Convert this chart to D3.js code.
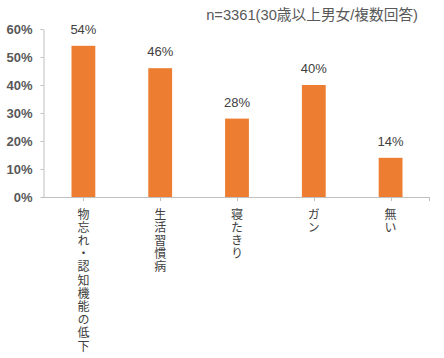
<!DOCTYPE html>
<html lang="ja">
<head>
  <meta charset="UTF-8">
  <title>Bar Chart</title>
  <script src="https://d3js.org/d3.v7.min.js"></script>
  <style>
    body { margin: 0; background: #fff; }
    .ytick text { font-family: "Liberation Sans", Arial, sans-serif; font-size: 13px; font-weight: bold; fill: #595959; }
    .val { font-family: "Liberation Sans", Arial, sans-serif; font-size: 13px; fill: #404040; }
    .cat { font-family: "Noto Sans CJK JP", sans-serif; font-size: 12px; fill: #404040; writing-mode: vertical-rl; text-orientation: upright; letter-spacing: 1.2px; }
    .note { font-family: "Liberation Sans", "Noto Sans CJK JP", sans-serif; font-size: 14.7px; fill: #595959; }
  </style>
</head>
<body>
  <svg id="chart" width="444" height="358"></svg>

  <script>
    // data
    const categories = ["物忘れ・認知機能の低下", "生活習慣病", "寝たきり", "ガン", "無い"];
    const values = [54, 46, 28, 40, 14];
    const yTicks = [0, 10, 20, 30, 40, 50, 60];
    const note = "n=3361(30歳以上男女/複数回答)";

    const svg = d3.select("#chart");

    const x = d3.scaleBand()
      .domain(categories)
      .range([45, 429])
      .paddingInner(0.69)
      .paddingOuter(0.345);

    const y = d3.scaleLinear()
      .domain([0, 60])
      .range([197, 29]);

    // y axis
    const yAxis = svg.append("g")
      .attr("class", "ytick")
      .attr("transform", "translate(43.5,0)")
      .call(d3.axisLeft(y).tickValues(yTicks).tickFormat(d => d + "%").tickSize(3).tickSizeOuter(0));
    yAxis.select(".domain").attr("stroke", "#bfbfbf");
    yAxis.selectAll(".tick line").attr("stroke", "#bfbfbf");
    yAxis.selectAll(".tick text").attr("x", -11);

    // bars
    svg.selectAll("rect.bar")
      .data(values)
      .enter()
      .append("rect")
      .attr("class", "bar")
      .attr("x", (d, i) => x(categories[i]))
      .attr("width", x.bandwidth())
      .attr("y", d => y(d))
      .attr("height", d => y(0) - y(d))
      .attr("fill", "#ED7D31");

    // x axis
    const xg = svg.append("g");
    xg.append("line")
      .attr("x1", 43).attr("x2", 429)
      .attr("y1", y(0) + 0.5).attr("y2", y(0) + 0.5)
      .attr("stroke", "#bfbfbf");
    const tickXs = categories.map(c => x(c) + x.bandwidth() / 2).concat([429]);
    xg.selectAll("line.t")
      .data(tickXs)
      .enter()
      .append("line")
      .attr("class", "t")
      .attr("x1", d => Math.round(d) + 0.5).attr("x2", d => Math.round(d) + 0.5)
      .attr("y1", y(0)).attr("y2", y(0) + 4)
      .attr("stroke", "#bfbfbf");

    // value labels
    svg.selectAll("text.val")
      .data(values)
      .enter()
      .append("text")
      .attr("class", "val")
      .attr("x", (d, i) => x(categories[i]) + x.bandwidth() / 2)
      .attr("y", d => y(d) - 12)
      .attr("text-anchor", "middle")
      .text(d => d + "%");

    // category labels (vertical)
    svg.selectAll("text.cat")
      .data(categories)
      .enter()
      .append("text")
      .attr("class", "cat")
      .attr("x", d => x(d) + x.bandwidth() / 2)
      .attr("y", 208)
      .text(d => d);

    // note
    svg.append("text")
      .attr("class", "note")
      .attr("x", 418)
      .attr("y", 20)
      .attr("text-anchor", "end")
      .text(note);
  </script>
</body>
</html>
